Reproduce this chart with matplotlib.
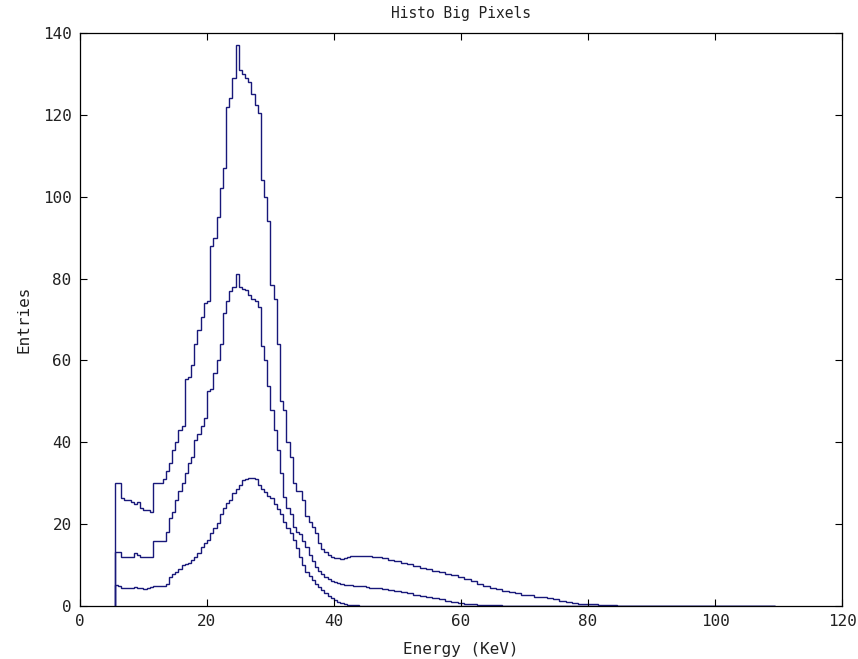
import numpy as np
import matplotlib
matplotlib.use("Agg")
import matplotlib.pyplot as plt

# bin edges (keV): 0.5 keV bins up to 46.5, then 1 keV bins
fine_edges = np.arange(5.5, 46.5, 0.5)
coarse_edges = np.arange(46.5, 110.5, 1.0)
edges = np.concatenate([fine_edges, coarse_edges])

# top histogram
top_fine = [30, 30, 26.5, 26, 26, 25.5, 25, 25.5, 24, 23.5, 23.5, 23,
            30, 30, 30, 31, 33, 35, 38, 40, 43, 44, 55.5, 56, 59, 64,
            67.5, 70.5, 74, 74.5, 88, 90, 95, 102, 107, 122, 124, 129,
            137, 131, 130, 129, 128, 125, 122.5, 120.5, 104, 100, 94,
            78.5, 75, 64, 50, 48, 40, 36.5, 30, 28, 28, 26, 22, 20.5,
            19.4, 17.8, 15.4, 14, 13.3, 12.5, 12, 11.8, 11.8, 11.5, 11.8,
            12, 12.1, 12.1, 12.1, 12.1, 12.1, 12.1, 12.1, 12.0]
top_coarse = [12, 11.8, 11.3, 11, 10.6, 10.2, 9.8, 9.4, 9, 8.6, 8.3, 7.9,
              7.5, 7.1, 6.6, 6, 5.4, 4.9, 4.5, 4.1, 3.7, 3.4, 3.1, 2.8,
              2.6, 2.3, 2.1, 1.9, 1.6, 1.3, 1.0, 0.8, 0.6, 0.5, 0.4, 0.3,
              0.3, 0.2, 0.1, 0.1, 0.1, 0.1, 0.1, 0.1, 0.1, 0.1, 0.1, 0.1,
              0.1, 0.1, 0.1, 0.1, 0.1, 0.1, 0.1, 0.1, 0.1, 0.1, 0.1, 0.1,
              0.1, 0.1, 0.1]

# middle histogram
mid_fine = [13.3, 13.3, 12, 12, 12, 12, 13, 12.5, 12, 12, 12, 12,
            16, 16, 15.8, 16, 18, 21.5, 23, 26, 28, 30, 32.5, 35, 36.5,
            40.5, 42, 44, 46, 52.5, 53, 57, 60, 64, 71.5, 74.5, 77, 78,
            81, 78, 77.5, 77.3, 76, 75, 74.5, 73, 63.5, 60, 53.7, 48, 43,
            38, 32.4, 26.7, 24, 22.6, 19.4, 18, 17.5, 16, 14.5, 12.4, 11,
            9.6, 8.5, 7.8, 7.1, 6.6, 6.2, 5.9, 5.6, 5.4, 5.2, 5.1, 5.1,
            5.0, 5.0, 4.9, 4.8, 4.7, 4.5, 4.4]
mid_coarse = [4.3, 4.1, 3.9, 3.6, 3.4, 3.1, 2.8, 2.5, 2.2, 1.9, 1.6, 1.3,
              1.0, 0.8, 0.5, 0.4, 0.3, 0.2, 0.2, 0.15, 0, 0, 0, 0, 0, 0,
              0, 0, 0, 0, 0, 0, 0, 0, 0, 0, 0, 0, 0, 0, 0, 0, 0, 0, 0, 0,
              0, 0, 0, 0, 0, 0, 0, 0, 0, 0, 0, 0, 0, 0, 0, 0, 0]

# bottom histogram
bot_fine = [5.1, 4.8, 4.5, 4.5, 4.5, 4.5, 4.6, 4.5, 4.3, 4.2, 4.5, 4.6,
            4.8, 4.8, 4.9, 5.0, 5.5, 7, 7.8, 8.3, 9, 9.9, 10.3, 10.5,
            11.2, 12, 13, 14.5, 15.3, 16.1, 17.8, 19, 20.2, 22.6, 24,
            25.1, 25.9, 27.5, 28.5, 29.5, 30.8, 31, 31.3, 31.2, 31, 29.5,
            28.5, 27.9, 26.8, 26.3, 25, 23.8, 22.6, 20.5, 19, 17.8, 16.1,
            14.1, 12, 9.9, 8.3, 7.3, 6.3, 5.5, 4.7, 3.9, 3.1, 2.5, 1.9,
            1.5, 1.1, 0.8, 0.5, 0.3, 0.3, 0.2, 0.2, 0.1, 0.1, 0.1, 0.1,
            0.1]
bot_coarse = [0] * 63

series = [top_fine + top_coarse, mid_fine + mid_coarse, bot_fine + bot_coarse]

line_col = '#18187a'
mono = 'DejaVu Sans Mono'
txt_col = '#222222'

fig = plt.figure(figsize=(8.58, 6.59), dpi=100)
ax = fig.add_axes([0.0932, 0.0804, 0.8882, 0.8696])

for vals in series:
    ax.stairs(vals, edges, baseline=0, color=line_col, lw=1.0)

ax.set_xlim(0, 120)
ax.set_ylim(0, 140)
ax.set_xticks(np.arange(0, 121, 20))
ax.set_yticks(np.arange(0, 141, 20))
ax.tick_params(direction='in', length=5, width=0.8, top=True, right=True,
               labelsize=11.5, pad=6, labelcolor=txt_col)
for lab in ax.get_xticklabels() + ax.get_yticklabels():
    lab.set_family(mono)
for sp in ax.spines.values():
    sp.set_linewidth(0.9)

ax.set_title('Histo Big Pixels', family=mono, fontsize=10.5, pad=11,
             color=txt_col)
ax.set_xlabel('Energy (KeV)', family=mono, fontsize=11.5, labelpad=9,
              color=txt_col)
ax.set_ylabel('Entries', family=mono, fontsize=11.5, labelpad=8,
              color=txt_col)

fig.savefig('out.png', dpi=100)
